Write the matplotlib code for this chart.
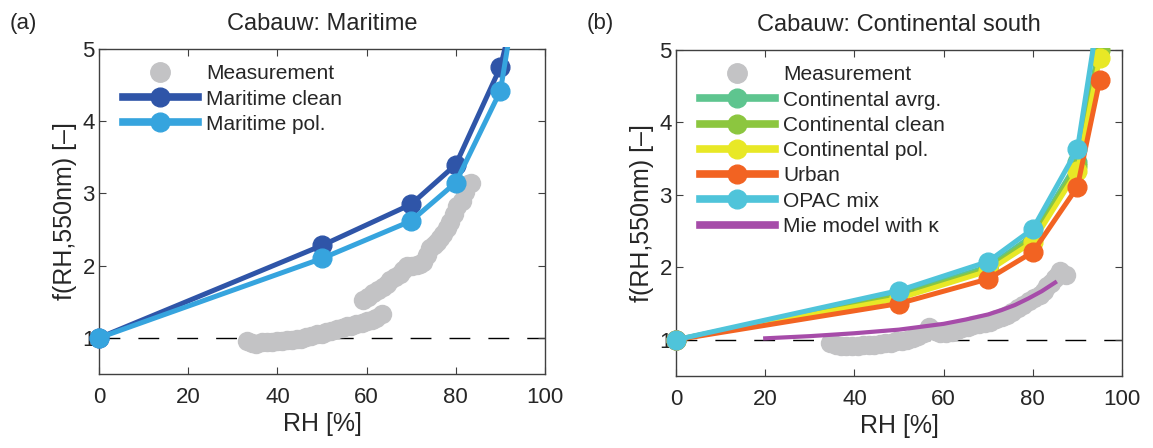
import matplotlib.pyplot as plt
from matplotlib.lines import Line2D
from matplotlib.transforms import Bbox, TransformedBbox

plt.rcParams['font.family'] = ['Liberation Sans', 'DejaVu Sans']

# model RH grid
rh_model = [0, 50, 70, 80, 90, 95]

# (a) Cabauw: Maritime
mar_clean = [1.0, 2.28, 2.85, 3.40, 4.75, 6.0]
mar_pol = [1.0, 2.10, 2.62, 3.15, 4.42, 6.3]
meas_a_rh = [33.1, 34.2, 35.3, 36.5, 37.6, 38.7, 39.8, 41.0, 42.1, 43.2, 44.3, 45.4,
             46.5, 47.6, 48.8, 49.9, 51.0, 52.1, 53.3, 54.4, 55.5, 56.6, 57.7, 58.9,
             60.0, 61.1, 62.2, 63.4,
             59.2, 60.3, 61.5, 62.6, 63.7, 64.5, 65.2, 66.3, 67.5, 68.2, 69.0, 70.1,
             71.2, 72.0, 72.7, 73.5, 74.2, 75.0, 75.7, 76.5, 77.2, 78.0, 78.7, 79.5,
             80.2, 81.3, 82.0, 82.8, 83.5]
meas_a_f = [0.96, 0.93, 0.92, 0.94, 0.95, 0.95, 0.96, 0.96, 0.97, 0.97, 0.98, 0.99,
            1.01, 1.03, 1.05, 1.06, 1.08, 1.10, 1.12, 1.14, 1.16, 1.17, 1.19, 1.21,
            1.23, 1.25, 1.28, 1.33,
            1.53, 1.57, 1.62, 1.66, 1.71, 1.75, 1.80, 1.84, 1.89, 1.94, 1.99, 2.00,
            2.01, 2.03, 2.05, 2.15, 2.24, 2.28, 2.33, 2.38, 2.44, 2.52, 2.60, 2.72,
            2.83, 2.90, 3.02, 3.13, 3.15]

# (b) Cabauw: Continental south
cont_avrg = [1.0, 1.63, 2.01, 2.44, 3.45, 5.1]
cont_clean = [1.0, 1.60, 1.98, 2.40, 3.40, 5.0]
cont_pol = [1.0, 1.57, 1.95, 2.35, 3.33, 4.89]
urban = [1.0, 1.50, 1.84, 2.21, 3.11, 4.58]
opac_mix = [1.0, 1.68, 2.08, 2.53, 3.63, 5.6]
mie_rh = [20, 30, 40, 50, 55, 60, 65, 70, 73, 76, 79, 82, 85]
mie_f = [1.02, 1.05, 1.09, 1.14, 1.18, 1.22, 1.28, 1.35, 1.41, 1.48, 1.57, 1.67, 1.79]
meas_b_rh = [34.5, 35.8, 37.0, 38.2, 39.5, 40.7, 41.9, 43.2, 44.4, 45.7, 46.9, 48.2,
             49.4, 50.6, 51.9, 53.1, 54.3, 55.5, 56.8, 58.0, 59.3, 60.5, 61.8, 63.0,
             64.2, 65.5, 66.7, 68.0, 69.2, 70.5, 71.7, 73.0, 74.2, 75.4, 76.6, 77.9,
             79.1, 80.3, 81.6, 82.4, 83.2, 84.0, 84.9, 85.6, 86.2, 87.4]
meas_b_f = [0.95, 0.93, 0.91, 0.91, 0.91, 0.92, 0.93, 0.93, 0.93, 0.94, 0.95, 0.96,
            0.98, 0.99, 1.00, 1.02, 1.05, 1.10, 1.18, 1.12, 1.09, 1.10, 1.11, 1.13,
            1.16, 1.18, 1.21, 1.22, 1.23, 1.25, 1.28, 1.31, 1.34, 1.39, 1.44, 1.48,
            1.53, 1.57, 1.62, 1.68, 1.74, 1.79, 1.85, 1.90, 1.95, 1.90]

TXT = '#262626'
GRAY = '#c3c3c5'


def setup(ax, title, tag):
    ax.set_xlim(0, 100)
    ax.set_ylim(0.5, 5)
    ax.set_xticks([0, 20, 40, 60, 80, 100])
    ax.set_yticks([1, 2, 3, 4, 5])
    ax.tick_params(direction='in', top=True, right=True, labelsize=16,
                   colors='#404040', labelcolor=TXT, length=5)
    ax.tick_params(axis='x', pad=9)
    ax.tick_params(axis='y', pad=3)
    for s in ax.spines.values():
        s.set_color('#404040')
        s.set_linewidth(1.0)
    ax.axhline(1, color='k', lw=1.0, dashes=(15, 13), zorder=1)
    ax.set_xlabel('RH [%]', fontsize=18, color=TXT, labelpad=3)
    ax.set_ylabel('f(RH,550nm) [–]', fontsize=18, color=TXT, labelpad=4)
    ax.set_title(title, fontsize=17, color=TXT, pad=14)
    ax.text(-0.2, 1.08, tag, transform=ax.transAxes, fontsize=16, color=TXT,
            ha='left', va='center')


def model(ax, y, color, label, lw=3.6, ms=13.5, z=3):
    clip = TransformedBbox(Bbox([[-0.05, -0.05], [1.05, 1.005]]), ax.transAxes)
    ln, = ax.plot(rh_model, y, '-o', color=color, lw=lw, ms=ms, mec=color,
                  zorder=z, label=label)
    ln.set_clip_box(clip)
    return ln


def legend(ax):
    h = [Line2D([], [], ls='none', marker='o', ms=14, color=GRAY, mec=GRAY)]
    labels = ['Measurement']
    for ln in ax.get_lines():
        lab = ln.get_label()
        if lab.startswith('_'):
            continue
        h.append(Line2D([], [], color=ln.get_color(), lw=5.5,
                        marker=ln.get_marker(), ms=ln.get_markersize()))
        labels.append(lab)
    ax.legend(h, labels, loc='upper left', bbox_to_anchor=(0.03, 0.985),
              frameon=False, fontsize=15, handlelength=3.6, handletextpad=0.4,
              labelspacing=0.3, borderpad=0, labelcolor=TXT)


fig = plt.figure(figsize=(11.53, 4.48), dpi=100)
ax1 = fig.add_axes([99 / 1153, 1 - 374 / 448, 446 / 1153, 325 / 448])
ax2 = fig.add_axes([676 / 1153, 1 - 376 / 448, 446 / 1153, 326 / 448])

# panel (a)
setup(ax1, 'Cabauw: Maritime', '(a)')
ax1.plot(meas_a_rh, meas_a_f, 'o', color=GRAY, ms=14, mec='none', zorder=2,
         label='_meas')
model(ax1, mar_clean, '#2f55a8', 'Maritime clean')
model(ax1, mar_pol, '#36a4de', 'Maritime pol.')
legend(ax1)

# panel (b)
setup(ax2, 'Cabauw: Continental south', '(b)')
ax2.plot(meas_b_rh, meas_b_f, 'o', color=GRAY, ms=14, mec='none', zorder=2,
         label='_meas')
model(ax2, cont_avrg, '#5ec58f', 'Continental avrg.')
model(ax2, cont_clean, '#8cc63f', 'Continental clean')
model(ax2, cont_pol, '#e8e826', 'Continental pol.')
model(ax2, urban, '#f26322', 'Urban')
model(ax2, opac_mix, '#4fc4da', 'OPAC mix')
ax2.plot(mie_rh, mie_f, '-', color='#a64ca9', lw=3, zorder=4, label='Mie model with κ')
legend(ax2)

fig.savefig('out.png', dpi=100)
